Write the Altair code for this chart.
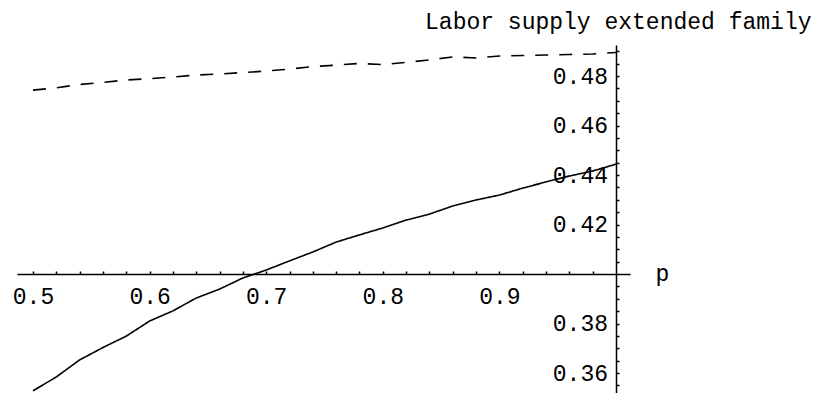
import json
import altair as alt
import pandas as pd

# ---- data ----
p_values = [0.50, 0.52, 0.54, 0.56, 0.58, 0.60, 0.62, 0.64, 0.66, 0.68, 0.70, 0.72, 0.74,
            0.76, 0.78, 0.80, 0.82, 0.84, 0.86, 0.88, 0.90, 0.92, 0.94, 0.96, 0.98, 1.00]
solid_series = [0.3528, 0.3584, 0.3653, 0.3703, 0.3749, 0.3810, 0.3851, 0.3903, 0.3939,
                0.3984, 0.4016, 0.4053, 0.4089, 0.4129, 0.4158, 0.4186, 0.4218, 0.4242,
                0.4275, 0.4299, 0.4319, 0.4347, 0.4372, 0.4396, 0.4416, 0.4444]
dashed_series = [0.4743, 0.4752, 0.4766, 0.4774, 0.4784, 0.4789, 0.4796, 0.4804, 0.4808,
                 0.4814, 0.4820, 0.4828, 0.4838, 0.4844, 0.4851, 0.4846, 0.4855, 0.4865,
                 0.4877, 0.4873, 0.4881, 0.4883, 0.4885, 0.4887, 0.4889, 0.4895]
series_names = ["solid", "dashed"]

x_major = [0.5, 0.6, 0.7, 0.8, 0.9]
x_minor = [0.52, 0.54, 0.56, 0.58, 0.62, 0.64, 0.66, 0.68, 0.72, 0.74, 0.76, 0.78,
           0.82, 0.84, 0.86, 0.88, 0.92, 0.94, 0.96, 0.98]
y_major = [0.36, 0.38, 0.42, 0.44, 0.46, 0.48]
y_minor = [0.35, 0.355, 0.365, 0.37, 0.375, 0.385, 0.39, 0.395, 0.405, 0.41, 0.415,
           0.425, 0.43, 0.435, 0.445, 0.45, 0.455, 0.465, 0.47, 0.475, 0.485, 0.49]

title_text = "Labor supply extended family"
x_title = "p"

df = pd.DataFrame({
    "p": p_values + p_values,
    "v": solid_series + dashed_series,
    "s": [series_names[0]] * len(p_values) + [series_names[1]] * len(p_values),
})

FONT = "Liberation Mono"
FS = 23

x_axis = alt.Axis(
    orient="top", offset=-229,
    values=sorted(x_major + x_minor),
    labelExpr="indexof(" + json.dumps(x_major) + ", datum.value) >= 0 ? format(datum.value, '.1f') : ''",
    tickSize=3, tickWidth=1.5, tickColor="black",
    domainColor="black", domainWidth=1.5,
    labelPadding=-32, labelBaseline="alphabetic", labelAlign="center",
    labelFont=FONT, labelFontSize=FS, labelColor="black",
    labelOverlap=False, labelFlush=False, labelBound=False,
    grid=False,
    title=x_title, titleX=638, titleY=6, titleAlign="left", titleBaseline="alphabetic",
    titleFont=FONT, titleFontSize=FS, titleFontWeight="normal", titleColor="black", titleAngle=0,
)

y_axis = alt.Axis(
    orient="right", offset=-14,
    values=sorted(y_major + y_minor),
    labelExpr="indexof(" + json.dumps(y_major) + ", datum.value) >= 0 ? format(datum.value, '.2f') : ''",
    tickSize=3, tickWidth=1.5, tickColor="black",
    domainColor="black", domainWidth=1.5,
    labelPadding=-11.5, labelBaseline="middle", labelAlign="right",
    labelFont=FONT, labelFontSize=FS, labelColor="black",
    labelOverlap=False, labelFlush=False, labelBound=False,
    grid=False,
    title=title_text, titleX=195, titleY=-17, titleAlign="right", titleBaseline="alphabetic",
    titleAngle=0, titleFont=FONT, titleFontSize=FS, titleFontWeight="normal", titleColor="black",
)

chart = alt.Chart(df).mark_line(color="black", strokeWidth=1.6).encode(
    x=alt.X("p:Q", scale=alt.Scale(domain=[0.48628, 1.012], nice=False, zero=False), axis=x_axis),
    y=alt.Y("v:Q", scale=alt.Scale(domain=[0.35192, 0.49253], nice=False, zero=False), axis=y_axis),
    strokeDash=alt.StrokeDash("s:N", scale=alt.Scale(domain=series_names, range=[[1, 0], [13, 11]]),
                              legend=None),
).properties(
    width=613, height=348,
    autosize=alt.AutoSizeParams(type="none"),
    padding={"left": 9, "top": 37, "right": 186, "bottom": 0},
).configure_view(stroke="transparent")

chart.save("out.html", embed_options={"renderer": "svg", "actions": False})
